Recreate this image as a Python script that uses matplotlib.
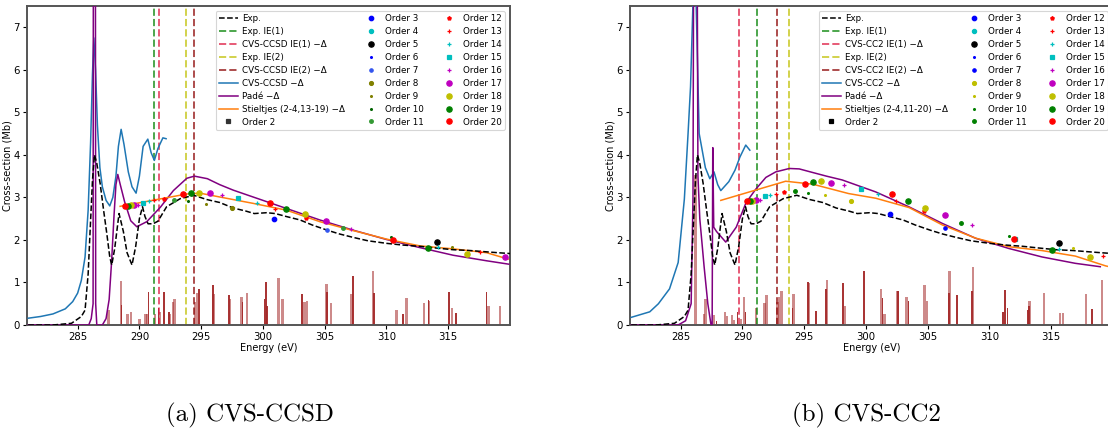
import matplotlib
matplotlib.use("Agg")
import matplotlib.pyplot as plt

# ---------------- data ----------------
exp_E = [281, 283, 284.5, 285.3, 285.6, 285.85, 286.0, 286.2, 286.36, 286.55, 286.82, 287.1, 287.36,
         287.6, 287.76, 288.0, 288.35, 288.7, 289.0, 289.4, 289.7, 290.0, 290.25, 290.45, 290.7, 291.1,
         291.5, 292.2, 293.3, 294.4, 295.45, 296.5, 297.6, 298.6, 299.3, 300.3, 301.0, 301.9, 303.0,
         304.0, 305.2, 306.2, 307.3, 308.5, 310.0, 311.3, 312.7, 314.0, 315.4, 316.8, 318.1, 319.0, 320.0]
exp_v = [0.0, 0.0, 0.04, 0.2, 0.35, 1.2, 2.16, 3.4, 4.0, 3.8, 3.33, 2.7, 2.15,
         1.6, 1.41, 1.8, 2.62, 2.2, 1.7, 1.41, 1.85, 2.5, 2.78, 2.55, 2.38, 2.38,
         2.44, 2.78, 2.97, 3.05, 2.95, 2.88, 2.75, 2.68, 2.62, 2.64, 2.62, 2.55, 2.47,
         2.35, 2.23, 2.14, 2.06, 1.98, 1.92, 1.88, 1.85, 1.81, 1.77, 1.75, 1.72, 1.70, 1.68]

exp_IE1 = 291.2
exp_IE2 = 293.8
ccsd_IE1 = 291.6
ccsd_IE2 = 294.4
cc2_IE1 = 289.75
cc2_IE2 = 292.8

# CVS-CCSD panel
ccsd_E = [281, 282, 283, 284, 284.6, 285.0, 285.3, 285.6, 285.85, 286.05, 286.2, 286.31, 286.45, 286.6,
          286.8, 287.0, 287.3, 287.6, 287.85, 288.1, 288.3, 288.52, 288.75, 289.1, 289.4, 289.73, 290.0,
          290.3, 290.68, 290.95, 291.21, 291.5, 291.9, 292.16]
ccsd_v = [0.16, 0.2, 0.26, 0.38, 0.55, 0.75, 1.05, 1.6, 2.7, 4.3, 5.9, 6.75, 6.0, 4.7,
          3.7, 3.25, 2.93, 2.8, 3.0, 3.5, 4.2, 4.6, 4.25, 3.6, 3.25, 3.1, 3.5,
          4.2, 4.37, 4.05, 3.87, 4.15, 4.4, 4.38]
ccsd_pade_E = [281, 285.9, 286.1, 286.25, 286.28, 286.43, 286.46, 286.55, 287.0, 287.3, 287.55, 287.75,
               287.95, 288.1, 288.25, 288.45, 288.8, 289.3, 289.79, 290.6, 291.7, 292.75, 293.84, 294.45,
               295.5, 296.5, 297.6, 299.2, 301.9, 304.6, 307.3, 310.0, 312.7, 315.4, 318.1, 319.9]
ccsd_pade_v = [0.0, 0.0, 0.15, 0.5, 12.0, 12.0, 0.5, 0.0, 0.0, 0.15, 0.6, 1.5,
               2.6, 3.3, 3.54, 3.3, 2.9, 2.45, 2.31, 2.43, 2.77, 3.16, 3.45, 3.5,
               3.44, 3.3, 3.17, 3.01, 2.74, 2.47, 2.23, 2.01, 1.82, 1.64, 1.51, 1.43]
ccsd_st_E = [288.44, 293.84, 294.9, 296.5, 299.2, 301.9, 304.6, 307.3, 310.0, 312.7, 315.4, 318.1, 319.85]
ccsd_st_v = [2.79, 3.08, 3.1, 3.01, 2.86, 2.70, 2.43, 2.22, 2.02, 1.86, 1.79, 1.70, 1.55]

ccsd_dark_E = [288.55, 290.73, 291.55, 292.0, 292.4, 294.85, 295.94, 297.26, 298.35, 300.12, 300.25,
               300.35, 303.19, 305.2, 307.31, 308.98, 311.36, 313.4, 315.08, 315.6, 318.1]
ccsd_dark_h = [0.46, 0.78, 0.4, 0.78, 0.3, 0.84, 0.94, 0.70, 0.55, 0.62, 1.0,
               0.45, 0.74, 0.78, 1.15, 0.75, 0.27, 0.58, 0.77, 0.29, 0.78]
ccsd_light_E = [287.5, 288.5, 289.03, 289.3, 290.0, 290.5, 290.6, 291.25, 291.65, 292.45, 292.7, 292.85,
                294.5, 294.65, 296.0, 297.35, 298.28, 298.69, 301.25, 301.6, 303.35, 303.55, 305.16,
                305.5, 307.18, 308.93, 310.82, 311.63, 313.03, 313.45, 315.3, 318.25, 319.2]
ccsd_light_h = [0.35, 1.04, 0.27, 0.31, 0.15, 0.27, 0.25, 0.25, 0.3, 0.25, 0.55, 0.6,
                0.55, 0.75, 0.72, 0.62, 0.67, 0.76, 1.11, 0.6, 0.55, 0.56, 0.96,
                0.51, 0.72, 1.28, 0.35, 0.64, 0.51, 0.56, 0.39, 0.45, 0.45]

ccsd_orders_E = {2: [], 3: [300.93], 4: [], 5: [314.1], 6: [], 7: [305.2], 8: [297.5],
                 9: [295.4, 315.3], 10: [293.97, 310.4], 11: [292.8, 306.5], 12: [291.95, 303.46],
                 13: [291.2, 300.98, 317.6], 14: [290.78, 299.5, 314.2], 15: [290.33, 298.0],
                 16: [289.87, 296.67, 307.13], 17: [289.57, 295.7, 305.08, 319.6],
                 18: [289.3, 294.83, 303.4, 316.5], 19: [289.1, 294.16, 301.9, 313.4],
                 20: [288.84, 293.56, 300.58, 310.5]}
ccsd_orders_v = {2: [], 3: [2.50], 4: [], 5: [1.94], 6: [], 7: [2.23], 8: [2.75],
                 9: [2.85, 1.84], 10: [2.92, 2.06], 11: [2.95, 2.29], 12: [2.97, 2.52],
                 13: [2.95, 2.72, 1.71], 14: [2.91, 2.86, 1.83], 15: [2.87, 2.98],
                 16: [2.83, 3.06, 2.25], 17: [2.82, 3.10, 2.44, 1.60],
                 18: [2.81, 3.10, 2.60, 1.68], 19: [2.80, 3.10, 2.72, 1.82],
                 20: [2.80, 3.08, 2.86, 2.0]}

# CVS-CC2 panel
cc2_E = [281, 282.5, 283.2, 284.1, 284.8, 285.3, 285.6, 285.8, 286.0, 286.12, 286.25, 286.5, 287.0,
         287.36, 287.7, 288.0, 288.25, 288.9, 289.4, 289.8, 290.27, 290.6]
cc2_v = [0.18, 0.31, 0.5, 0.85, 1.47, 2.96, 4.5, 5.6, 7.6, 9.0, 7.6, 4.5, 3.7,
         3.44, 3.6, 3.3, 3.16, 3.37, 3.64, 3.95, 4.23, 4.11]
cc2_pade_E = [281, 284.8, 285.4, 285.85, 286.0, 286.08, 286.3, 286.4, 286.55, 286.9, 287.2, 287.45,
              287.55, 287.6, 287.68, 287.9, 288.65, 289.5, 290.3, 291.1, 291.9, 292.7, 293.8, 294.6,
              295.5, 296.8, 298.08, 300.78, 303.47, 306.17, 308.87, 311.56, 314.25, 316.95, 318.97]
cc2_pade_v = [0.0, 0.0, 0.1, 0.5, 3.0, 12.0, 12.0, 3.5, 2.5, 1.37, 0.5, 0.02,
              0.0, 4.17, 2.3, 2.2, 1.95, 2.3, 2.88, 3.2, 3.47, 3.6, 3.68, 3.67,
              3.6, 3.5, 3.41, 3.13, 2.78, 2.39, 2.04, 1.80, 1.60, 1.45, 1.37]
cc2_st_E = [288.25, 293.5, 295.7, 298.6, 300.8, 303.5, 306.2, 308.9, 311.6, 314.25, 316.95, 319.4, 320.0]
cc2_st_v = [2.93, 3.38, 3.31, 3.09, 2.98, 2.76, 2.35, 2.04, 1.84, 1.75, 1.62, 1.39, 1.35]

cc2_dark_E = [287.9, 289.6, 290.25, 294.05, 295.3, 295.94, 296.74, 298.16, 299.83, 301.35, 302.6,
              303.45, 306.7, 307.4, 308.6, 311.1, 311.26, 311.45, 313.1, 313.2, 318.3]
cc2_dark_h = [0.1, 0.31, 0.3, 0.4, 1.0, 0.33, 0.85, 0.98, 1.28, 0.64, 0.81,
              0.57, 0.75, 0.71, 0.8, 0.3, 0.82, 0.4, 0.35, 0.45, 0.38]
cc2_light_E = [286.2, 286.9, 287.0, 287.7, 288.6, 288.75, 289.15, 289.3, 289.9, 290.15, 291.1, 291.8,
               291.95, 292.85, 292.95, 293.15, 294.15, 295.4, 296.85, 298.3, 301.2, 301.5, 302.55,
               303.3, 304.74, 304.95, 306.76, 308.65, 313.25, 314.4, 315.7, 315.95, 317.8, 319.1]
cc2_light_h = [3.52, 0.27, 0.6, 0.23, 0.3, 0.2, 0.23, 0.12, 0.15, 0.65, 0.39, 0.52,
               0.7, 0.55, 0.67, 0.8, 0.72, 0.98, 1.06, 0.44, 0.84, 0.25, 0.81,
               0.67, 0.93, 0.57, 1.27, 1.37, 0.57, 0.76, 0.29, 0.29, 0.74, 1.06]

cc2_orders_E = {2: [], 3: [301.94], 4: [], 5: [315.65], 6: [], 7: [306.44], 8: [298.76],
                9: [296.7, 316.8], 10: [295.33, 311.6], 11: [294.26, 307.7], 12: [293.4, 304.7],
                13: [292.7, 302.45, 319.16], 14: [292.2, 300.97, 315.65], 15: [291.8, 299.6, 312.1],
                16: [291.4, 298.2, 308.6], 17: [291.08, 297.2, 306.44],
                18: [290.8, 296.4, 304.8, 318.16], 19: [290.6, 295.7, 303.4, 315.06],
                20: [290.35, 295.06, 302.07, 312.0]}
cc2_orders_v = {2: [], 3: [2.62], 4: [], 5: [1.93], 6: [], 7: [2.29], 8: [2.91],
                9: [3.05, 1.82], 10: [3.11, 2.09], 11: [3.15, 2.39], 12: [3.13, 2.68],
                13: [3.09, 2.91, 1.62], 14: [3.06, 3.07, 1.78], 15: [3.04, 3.19, 2.02],
                16: [2.95, 3.30, 2.35], 17: [2.93, 3.35, 2.58],
                18: [2.92, 3.38, 2.76, 1.61], 19: [2.92, 3.37, 2.92, 1.76],
                20: [2.91, 3.32, 3.07, 2.02]}

orders = list(range(2, 21))
order_marker = {2: 's', 3: 'o', 4: 'o', 5: 'o', 6: '.', 7: 'o', 8: 'o', 9: '.', 10: '.', 11: 'o',
                12: 'p', 13: '+', 14: '+', 15: 's', 16: '+', 17: 'o', 18: 'o', 19: 'o', 20: 'o'}
order_size = {2: 2.6, 3: 3.2, 4: 3.0, 5: 3.8, 6: 2.6, 7: 2.4, 8: 2.8, 9: 2.6, 10: 2.6, 11: 2.6,
              12: 2.6, 13: 3.0, 14: 3.0, 15: 2.4, 16: 3.0, 17: 3.8, 18: 3.8, 19: 3.8, 20: 3.8}
ccsd_order_color = {2: '#333333', 3: 'b', 4: 'c', 5: 'k', 6: 'b', 7: '#3355ee', 8: 'olive', 9: 'olive',
                    10: 'darkgreen', 11: '#339933', 12: 'r', 13: 'r', 14: 'c', 15: 'c', 16: 'm',
                    17: 'm', 18: 'y', 19: 'g', 20: 'r'}
cc2_order_color = {2: 'k', 3: 'b', 4: 'c', 5: 'k', 6: 'b', 7: 'b', 8: 'y', 9: 'y', 10: 'g', 11: 'g',
                   12: 'r', 13: 'r', 14: 'c', 15: 'c', 16: 'm', 17: 'm', 18: 'y', 19: 'g', 20: 'r'}

# ---------------- figure ----------------
W, H = 1108, 437
fig = plt.figure(figsize=(W / 100, H / 100), dpi=100)
ax_l = fig.add_axes([27 / W, (H - 325) / H, 483 / W, 319 / H])
ax_r = fig.add_axes([630 / W, (H - 325) / H, 483 / W, 319 / H])


def draw(ax, name, E, v, pE, pv, sE, sv, stlabel, dE, dh, lE, lh, ie1, ie2, oE, ov, ocol):
    ax.bar(lE, lh, width=0.2, color='brown', alpha=0.55, linewidth=0, zorder=1)
    ax.bar(dE, dh, width=0.14, color='#a52a2a', alpha=0.95, linewidth=0, zorder=1)
    h = []
    h += ax.plot(exp_E, exp_v, ls='--', color='k', lw=1.1, label='Exp.', zorder=4)
    h.append(ax.axvline(exp_IE1, ls='--', color='g', alpha=0.7, lw=1.4, label='Exp. IE(1)'))
    h.append(ax.axvline(ie1, ls='--', color='crimson', alpha=0.7, lw=1.4,
                        label=f'{name} IE(1) \u2212\u0394'))
    h.append(ax.axvline(exp_IE2, ls='--', color='y', alpha=0.7, lw=1.4, label='Exp. IE(2)'))
    h.append(ax.axvline(ie2, ls='--', color='darkred', alpha=0.7, lw=1.4,
                        label=f'{name} IE(2) \u2212\u0394'))
    h += ax.plot(E, v, color='tab:blue', lw=1.1, label=f'{name} \u2212\u0394', zorder=3)
    h += ax.plot(pE, pv, color='purple', lw=1.1, label='Pad\u00e9 \u2212\u0394', zorder=3)
    h += ax.plot(sE, sv, color='tab:orange', lw=1.1, label=f'Stieltjes ({stlabel}) \u2212\u0394',
                 zorder=3)
    for n in orders:
        h += ax.plot(oE[n], ov[n], ls='none', marker=order_marker[n], ms=order_size[n],
                     color=ocol[n], mew=0.9, label=f'Order {n}', zorder=5)
    ax.set_xlim(280.9, 320)
    ax.set_ylim(0, 7.5)
    ax.set_xticks([285, 290, 295, 300, 305, 310, 315])
    ax.set_yticks(range(8))
    ax.tick_params(labelsize=7.3, length=3, width=0.8, pad=2)
    ax.set_xlabel('Energy (eV)', fontsize=7, labelpad=1)
    ax.set_ylabel('Cross-section (Mb)', fontsize=7, labelpad=1)
    for s in ax.spines.values():
        s.set_color('#555555')
        s.set_linewidth(1.4)
    leg = ax.legend(handles=h, ncol=3, fontsize=6.3, loc='upper right',
                    bbox_to_anchor=(0.993, 0.99), labelspacing=0.45, handlelength=2.2,
                    handletextpad=0.5, columnspacing=1.8, borderpad=0.35, framealpha=0.8,
                    borderaxespad=0.2)
    leg.get_frame().set_linewidth(0.8)


draw(ax_l, 'CVS-CCSD', ccsd_E, ccsd_v, ccsd_pade_E, ccsd_pade_v, ccsd_st_E, ccsd_st_v, '2-4,13-19',
     ccsd_dark_E, ccsd_dark_h, ccsd_light_E, ccsd_light_h, ccsd_IE1, ccsd_IE2,
     ccsd_orders_E, ccsd_orders_v, ccsd_order_color)
draw(ax_r, 'CVS-CC2', cc2_E, cc2_v, cc2_pade_E, cc2_pade_v, cc2_st_E, cc2_st_v, '2-4,11-20',
     cc2_dark_E, cc2_dark_h, cc2_light_E, cc2_light_h, cc2_IE1, cc2_IE2,
     cc2_orders_E, cc2_orders_v, cc2_order_color)

fig.text(250 / W, 1 - 415 / H, '(a) CVS-CCSD', fontsize=18, family='cmr10', ha='center', va='center')
fig.text(866 / W, 1 - 415 / H, '(b) CVS-CC2', fontsize=18, family='cmr10', ha='center', va='center')

fig.savefig('out.png', dpi=100)
